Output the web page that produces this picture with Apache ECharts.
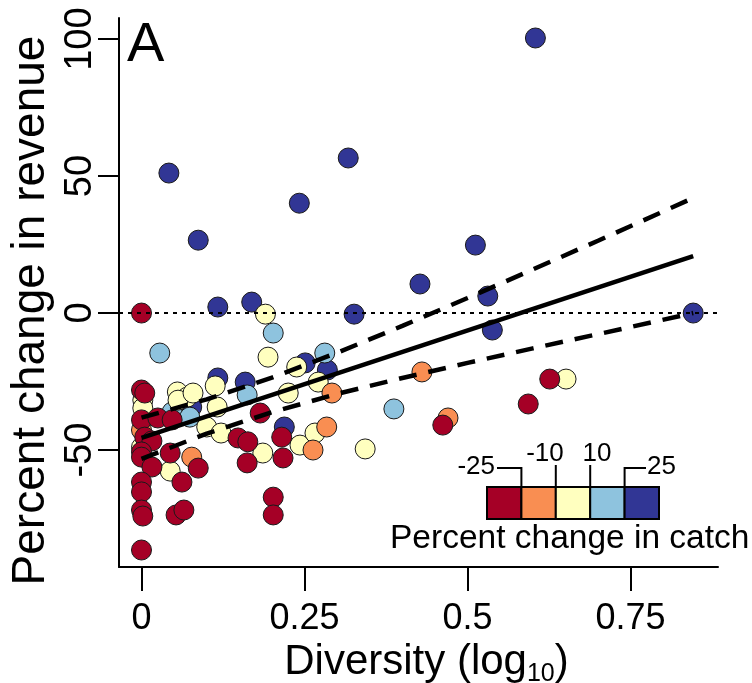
<!DOCTYPE html>
<html>
<head>
<meta charset="utf-8">
<script src="https://cdn.jsdelivr.net/npm/echarts@6/dist/echarts.min.js"></script>
<style>
html, body { margin: 0; padding: 0; background: #fff; }
#chart { width: 752px; height: 683px; }
</style>
</head>
<body>
<div id="chart"></div>
<script>
// axis ticks
var xTicks = [0, 0.25, 0.5, 0.75];
var yTicks = [-50, 0, 50, 100];

// percent change in catch classes
var catchBreaks = [-25, -10, 10, 25];
var catchColors = ['#A50026', '#F98E52', '#FFFFBF', '#8EC3DE', '#313695'];

// [diversity, percent change in revenue] per catch class
var ptsBlue = [
    [0.604, 100.4], [0.042, 51.1], [0.317, 56.6], [0.242, 40.1], [0.087, 26.6],
    [0.512, 24.8], [0.427, 10.6], [0.531, 6.2], [0.117, 2.2], [0.169, 4.0],
    [0.326, -0.4], [0.846, 0], [0.538, -6.2], [0.285, -20.8], [0.251, -18.2],
    [0.159, -25.2], [0.117, -23.7], [0.077, -34.3], [0.219, -41.6]
];
var ptsLightBlue = [
    [0.028, -14.6], [0.202, -7.3], [0.281, -14.6], [0.162, -29.9], [0.387, -35],
    [0.047, -36.1], [0.074, -38]
];
var ptsYellow = [
    [0.19, -0.4], [0.194, -16.1], [0.238, -19.7], [0.271, -25.2], [0.225, -29.2],
    [0.113, -26.6], [0.055, -28.8], [0.07, -30.7], [0.056, -31.8], [0.079, -29.2],
    [0.002, -31.8], [0.002, -34.7], [0.116, -34.3], [0.1, -41.6], [0.122, -43.8],
    [0.044, -57.7], [0.186, -51.1], [0.243, -48.2], [0.266, -43.8], [0.343, -49.6],
    [0.651, -24.1], [0, -49]
];
var ptsOrange = [
    [0.43, -21.5], [0.292, -29.2], [0.284, -41.6], [0.263, -50], [0.47, -38.3],
    [0.077, -52.6], [0, -42.7]
];
var ptsRed = [
    [0, 0], [0, -28.1], [0.005, -29.2], [0, -39], [0.025, -38.3], [0.047, -39],
    [0.005, -45.3], [0.016, -46.7], [0, -50.7], [0, -52.6], [0.016, -56.2],
    [0.044, -51.1], [0.087, -56.6], [0.062, -61.7], [0, -61.7], [0, -65.3],
    [0, -71.9], [0.002, -74.1], [0.053, -73.7], [0.065, -71.9], [0, -86.5],
    [0.182, -36.5], [0.148, -45.6], [0.163, -47], [0.215, -45.3], [0.217, -52.9],
    [0.162, -54.7], [0.202, -67.2], [0.202, -73.7], [0.626, -24.1], [0.593, -33.2],
    [0.462, -40.9]
];

// fitted line and confidence band
var fitX = [0, 0.846];
var fitY = [-45.6, 20.8];
var bandX = [0, 0.1, 0.2, 0.3, 0.4, 0.5, 0.6, 0.7, 0.846];
var bandUpper = [-38.2, -31.5, -23.6, -14.5, -4.7, 5.5, 15.9, 26.4, 42];
var bandLower = [-53.2, -44, -36.2, -29.5, -23.7, -18.2, -12.9, -7.7, 0];

function zip(xs, ys) {
    return xs.map(function (x, i) { return [x, ys[i]]; });
}

var chartDom = document.getElementById('chart');
var myChart = echarts.init(chartDom);

var sans = "'Liberation Sans', Arial, sans-serif";

function pointSeries(data, color) {
    return {
        type: 'scatter',
        data: data,
        symbolSize: 20,
        itemStyle: { color: color, borderColor: '#1a1a1a', borderWidth: 1, opacity: 1 },
        z: 2
    };
}

function lineSeries(data, dashed) {
    return {
        type: 'line',
        data: data,
        showSymbol: false,
        smooth: false,
        silent: true,
        lineStyle: { color: '#000', width: 4.5, type: dashed ? [18, 12] : 'solid', cap: 'butt' },
        z: 5
    };
}

// legend (colour key)
var keyX = 487, keyY = 487, keyW = 34.4, keyH = 32;
var legend = [];
catchColors.forEach(function (c, i) {
    legend.push({
        type: 'rect',
        shape: { x: keyX + i * keyW, y: keyY, width: keyW, height: keyH },
        style: { fill: c, stroke: '#000', lineWidth: 2 },
        z: 10
    });
});
var lineStyleK = { stroke: '#000', lineWidth: 2, fill: null };
legend.push(
    { type: 'polyline', shape: { points: [[497, 468], [keyX + keyW, 468], [keyX + keyW, keyY]] }, style: lineStyleK, z: 10 },
    { type: 'line', shape: { x1: keyX + 2 * keyW, y1: 465, x2: keyX + 2 * keyW, y2: keyY }, style: lineStyleK, z: 10 },
    { type: 'line', shape: { x1: keyX + 3 * keyW, y1: 465, x2: keyX + 3 * keyW, y2: keyY }, style: lineStyleK, z: 10 },
    { type: 'polyline', shape: { points: [[keyX + 4 * keyW, keyY], [keyX + 4 * keyW, 468], [646, 468]] }, style: lineStyleK, z: 10 },
    { type: 'text', x: 495, y: 467, style: { text: String(catchBreaks[0]), font: '26px ' + sans, fill: '#000', align: 'right', verticalAlign: 'middle' }, z: 10 },
    { type: 'text', x: 545, y: 454, style: { text: String(catchBreaks[1]), font: '26px ' + sans, fill: '#000', align: 'center', verticalAlign: 'middle' }, z: 10 },
    { type: 'text', x: 597, y: 454, style: { text: String(catchBreaks[2]), font: '26px ' + sans, fill: '#000', align: 'center', verticalAlign: 'middle' }, z: 10 },
    { type: 'text', x: 647, y: 467, style: { text: String(catchBreaks[3]), font: '26px ' + sans, fill: '#000', align: 'left', verticalAlign: 'middle' }, z: 10 },
    { type: 'text', x: 390, y: 539, style: { text: 'Percent change in catch', font: '33.5px ' + sans, fill: '#000', align: 'left', verticalAlign: 'middle' }, z: 10 },
    { type: 'text', x: 127, y: 46, style: { text: 'A', font: '56px ' + sans, fill: '#000', align: 'left', verticalAlign: 'middle' }, z: 10 }
);

var option = {
    backgroundColor: '#fff',
    animation: false,
    grid: { left: 119, right: 34, top: 18, bottom: 116, containLabel: false, outerBoundsMode: 'none' },
    xAxis: {
        type: 'value',
        min: -0.0345,
        max: 0.884,
        name: '{a|Diversity (log}{b|10}{a|)}',
        nameLocation: 'middle',
        nameGap: 62,
        nameTextStyle: {
            padding: [0, 0, 0, 16],
            rich: {
                a: { fontSize: 42, fontFamily: sans, color: '#000' },
                b: { fontSize: 25, fontFamily: sans, color: '#000', padding: [22, 0, 0, 0] }
            }
        },
        axisLine: { show: true, onZero: false, lineStyle: { color: '#000', width: 2 } },
        axisTick: { show: true, customValues: xTicks, length: 24, lineStyle: { color: '#000', width: 2 } },
        axisLabel: { show: true, customValues: xTicks, margin: 34, fontSize: 36, fontFamily: sans, color: '#000' },
        splitLine: { show: false }
    },
    yAxis: {
        type: 'value',
        min: -92.7,
        max: 107.7,
        name: 'Percent change in revenue',
        nameLocation: 'middle',
        nameGap: 62,
        nameRotate: 90,
        nameTextStyle: { fontSize: 46, fontFamily: sans, color: '#000', padding: [0, 36, 0, 0] },
        axisLine: { show: true, onZero: false, lineStyle: { color: '#000', width: 2 } },
        axisTick: { show: true, customValues: yTicks, length: 21, lineStyle: { color: '#000', width: 2 } },
        axisLabel: { show: true, customValues: yTicks, rotate: 90, margin: 19, fontSize: 38, fontFamily: sans, color: '#000' },
        splitLine: { show: false }
    },
    series: [
        pointSeries(ptsBlue, catchColors[4]),
        pointSeries(ptsLightBlue, catchColors[3]),
        pointSeries(ptsYellow, catchColors[2]),
        pointSeries(ptsOrange, catchColors[1]),
        pointSeries(ptsRed, catchColors[0]),
        lineSeries(zip(fitX, fitY), false),
        lineSeries(zip(bandX, bandUpper), true),
        lineSeries(zip(bandX, bandLower), true),
        {
            type: 'line',
            data: [],
            silent: true,
            markLine: {
                silent: true,
                symbol: 'none',
                label: { show: false },
                lineStyle: { color: '#000', width: 2, type: [4, 5] },
                data: [{ yAxis: 0 }]
            },
            z: 6
        }
    ],
    graphic: legend
};

option && myChart.setOption(option);
new ResizeObserver(() => myChart.resize()).observe(chartDom);
</script>
</body>
</html>
